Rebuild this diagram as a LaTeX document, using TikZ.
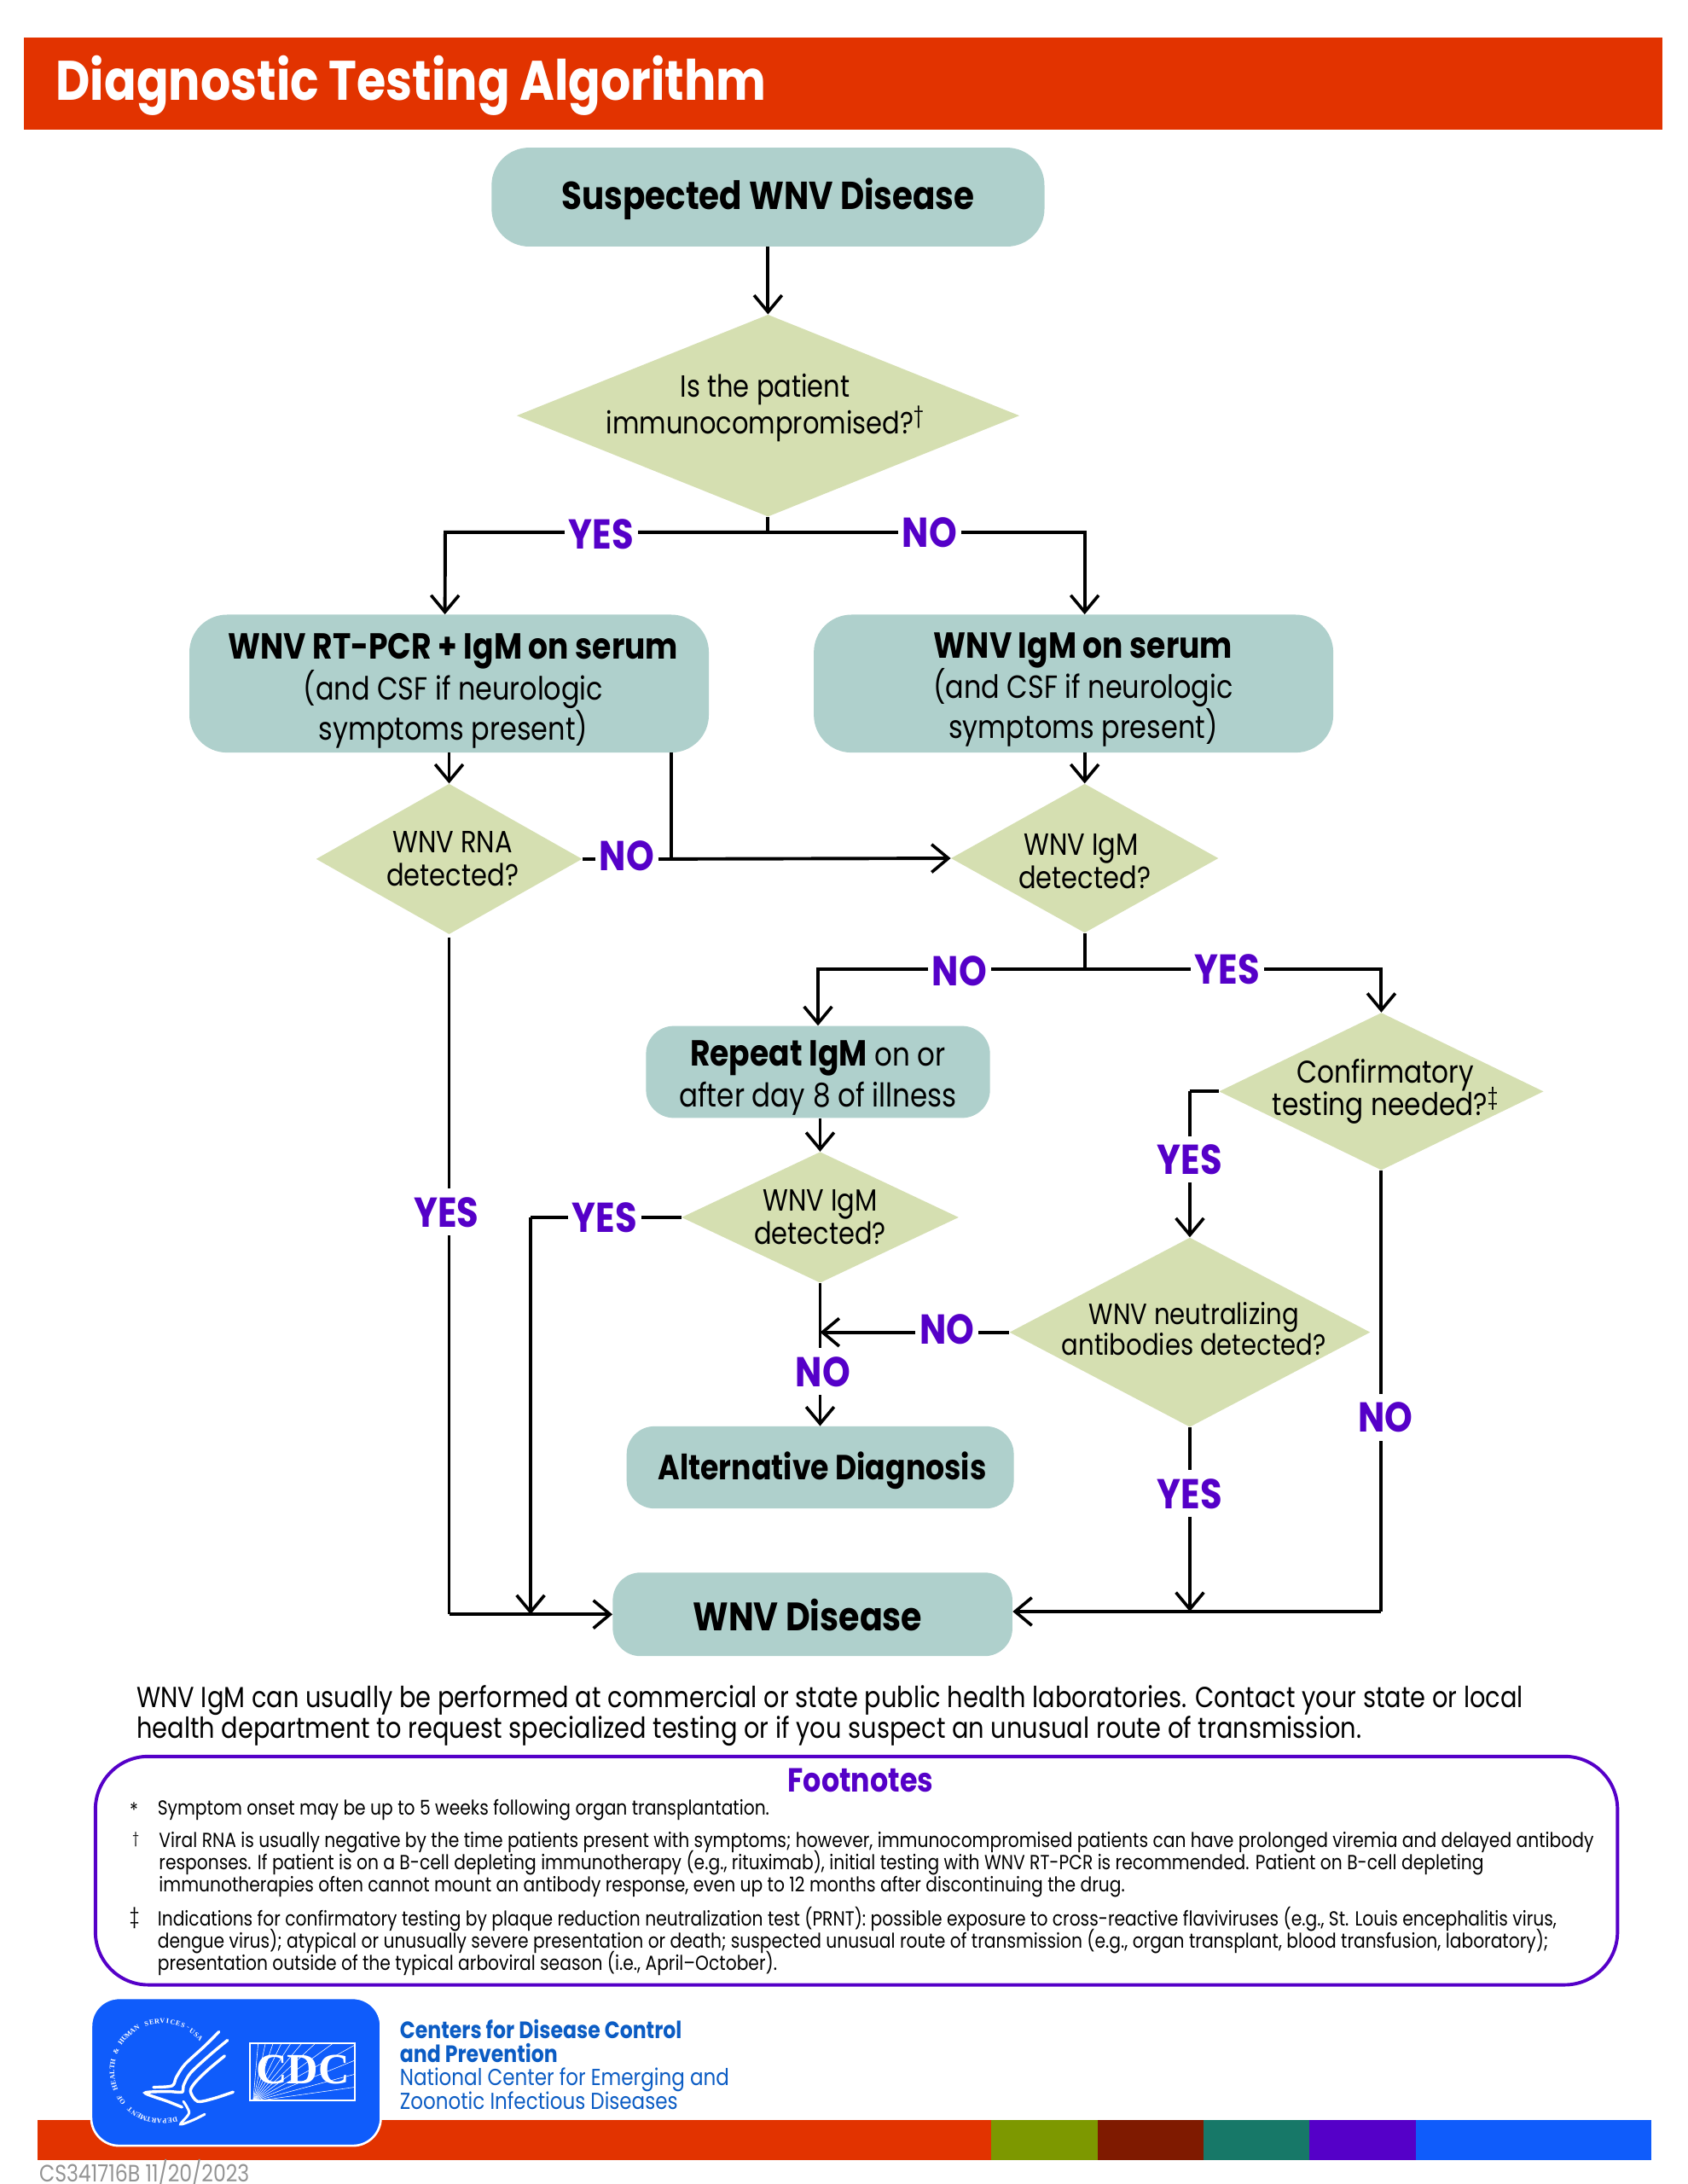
\documentclass[tikz,border=0pt]{standalone}
\usepackage{fontspec}
\setmainfont[FakeStretch=0.85]{Poppins}
\newfontfamily\cdcserif{Liberation Serif}
\usetikzlibrary{shapes.geometric, positioning, arrows.meta, calc}
\definecolor{bannerred}{HTML}{E23300}
\definecolor{boxteal}{HTML}{AFD0CC}
\definecolor{qgreen}{HTML}{D5DFB1}
\definecolor{labelpurple}{HTML}{5500C8}
\definecolor{cdcblue}{HTML}{0F5CFB}
\definecolor{barolive}{HTML}{7D9800}
\definecolor{barbrown}{HTML}{7F1A00}
\definecolor{barteal}{HTML}{177868}
\definecolor{linkblue}{HTML}{0B5CC4}
\newcommand{\boxhead}[1]{{\fontsize{26}{29}\selectfont\bfseries #1}}
\newcommand{\pushdown}[1]{\rule{0pt}{#1}}
\newcommand{\pushup}[1]{\rule[-#1]{0pt}{#1}}
\newcommand{\tightlines}{\lineskiplimit=-20pt\relax}
\tikzstyle{testbox} = [
    rectangle, rounded corners=27pt, fill=boxteal, inner sep=0pt,
    text centered, align=center, font=\fontsize{23}{29}\selectfont
]
\tikzstyle{question} = [
    diamond, fill=qgreen, inner sep=-40pt, % text must not size the shape
    text centered, align=center, font=\fontsize{22}{24}\selectfont\tightlines
]
\tikzstyle{answer} = [
    fill=white, inner xsep=3pt, inner ysep=6pt, text=labelpurple,
    font=\fontsize{30}{30}\selectfont\bfseries
]
\tikzstyle{flow} = [line width=2.4pt]
\tikzstyle{flowto} = [line width=2.4pt, -{Straight Barb[length=12pt,width=20pt,line width=2.2pt]}]
\tikzstyle{barpiece} = [rectangle, minimum height=29pt, inner sep=0pt, outer sep=0pt]
\tikzstyle{notetext} = [anchor=north west, inner sep=0pt, align=left, font=\fontsize{14.6}{16}\selectfont\tightlines]
\begin{document}
\begin{tikzpicture}[x=1pt, y=-1pt]
    \useasboundingbox (0,0) rectangle (1211.6,1568);
    \fill[white] (0,0) rectangle (1211.6,1568);

    % Banner
    \node[rectangle, fill=bannerred, minimum width=1177pt, minimum height=66pt, inner sep=0pt] (banner) at (605.5,60) {};
    \node[anchor=base west, text=white, inner sep=0pt, font=\fontsize{40}{40}\selectfont\bfseries] (title) at (40,72) {Diagnostic Testing Algorithm};

    % Boxes and questions
    \node[testbox, minimum width=397pt, minimum height=71pt, font=\fontsize{28}{28}\selectfont\bfseries] (suspect) at (551.5,141.5) {\pushdown{25pt}Suspected WNV Disease};
    \node[question, minimum width=361pt, minimum height=145pt, font=\fontsize{22}{26}\selectfont\tightlines] (immuno) [below=48.5pt of suspect] {Is the patient\hspace*{4pt}\\immunocompromised?\textsuperscript{†}\hspace*{4pt}\pushup{17pt}};

    \node[testbox, minimum width=373pt, minimum height=99pt] (pcr) [below=70pt of immuno, xshift=-229pt] {\hspace*{6pt}\pushdown{29pt}\boxhead{WNV RT-PCR + IgM on serum}\\\hspace*{6pt}(and CSF if neurologic\\\hspace*{6pt}symptoms present)};
    \node[testbox, minimum width=373pt, minimum height=99pt] (igm) [right=75pt of pcr] {\hspace*{14pt}\pushdown{27pt}\boxhead{WNV IgM on serum}\\\hspace*{14pt}(and CSF if neurologic\\\hspace*{14pt}symptoms present)};

    \node[question, minimum width=191pt, minimum height=108pt] (rna) [below=22pt of pcr] {\hspace*{5pt}WNV RNA\\\hspace*{5pt}detected?};
    \node[question, minimum width=192pt, minimum height=107pt] (igmq) [below=22pt of igm, xshift=8pt] {\pushdown{20pt}WNV IgM\hspace*{5pt}\\detected?};

    \node[testbox, rounded corners=20pt, minimum width=247pt, minimum height=66pt, font=\fontsize{23.5}{29}\selectfont] (repeat) [below=66.5pt of igmq, xshift=-191.5pt] {\pushdown{27pt}\boxhead{Repeat IgM} on or\\after day 8 of illness};
    \node[question, minimum width=199pt, minimum height=94pt] (igmtwo) [below=24pt of repeat, xshift=1.5pt] {WNV IgM\\detected?};
    \node[question, minimum width=233pt, minimum height=113pt, font=\fontsize{22.5}{23}\selectfont\tightlines] (confirm) [below=57pt of igmq, xshift=213pt] {\hspace*{6pt}Confirmatory\\\hspace*{6pt}testing needed?\textsuperscript{‡}};
    \node[question, minimum width=259pt, minimum height=136pt, font=\fontsize{21}{22}\selectfont\tightlines] (neutral) [below=48pt of confirm, xshift=-137.5pt] {\hspace*{6pt}WNV neutralizing\\\hspace*{6pt}antibodies detected?\pushup{5pt}};

    \node[testbox, rounded corners=20pt, minimum width=278pt, minimum height=59pt, font=\fontsize{25}{25}\selectfont\bfseries] (altdx) at (589,1053.5) {\pushdown{24pt}\hspace*{3pt}Alternative Diagnosis};
    \node[testbox, rounded corners=20pt, minimum width=287pt, minimum height=60pt, font=\fontsize{28.5}{28.5}\selectfont\bfseries] (wnv) at (583.5,1159) {\pushdown{24pt}WNV Disease\hspace*{7pt}};

    % Connectors
    \coordinate (columnyes) at (319.7,0);
    \coordinate (columnrna) at (482,0);
    \coordinate (columndrop) at (381,0);
    \coordinate (lowline) at (0,1157);

    \draw[flowto] (suspect) -- (immuno);
    \coordinate (splitone) at ([yshift=-11pt]immuno.south);
    \draw[flow] (immuno.south) -- (splitone);
    \draw[flowto] (splitone) -- node[answer, pos=.517, yshift=-1.5pt] (yesa) {YES} (splitone -| columnyes) -- ([xshift=-3pt]pcr.north);
    \draw[flowto] (splitone) -- node[answer, pos=.51] (noa) {NO} (splitone -| igmq) -- ([xshift=8pt]igm.north);
    \draw[flowto] (pcr) -- (rna);
    \draw[flowto] ([xshift=8pt]igm.south) -- (igmq);

    \coordinate (joinrna) at (rna -| columnrna);
    \draw[flow] (rna.east) -- node[answer, pos=.5, yshift=2pt] (nob) {NO} (joinrna);
    \draw[flow] (pcr.south -| joinrna) -- (joinrna);
    \draw[flowto] (joinrna) -- (igmq.west);
    \coordinate (rnafoot) at ([yshift=-2pt]rna.south);
    \coordinate (wnvfoot) at (wnv.west -| rnafoot);
    \draw[flow] (rnafoot) -- node[answer, pos=.406, xshift=-2pt] (yesb) {YES} (wnvfoot);
    \draw[flowto] (wnvfoot) -- (wnv.west);

    \coordinate (splittwo) at ([yshift=-26pt]igmq.south);
    \draw[flow] (igmq.south) -- (splittwo);
    \draw[flowto] (splittwo) -- node[answer, pos=.47, yshift=-1.5pt] (noc) {NO} (splittwo -| repeat) -- (repeat.north);
    \draw[flowto] (splittwo) -- node[answer, pos=.48] (yesc) {YES} (splittwo -| confirm) -- (confirm.north);
    \draw[flowto] (repeat.south -| igmtwo) -- (igmtwo);

    \coordinate (drop) at (igmtwo.west -| columndrop);
    \draw[flow] (igmtwo.west) -- node[answer, pos=.51] (yesd) {YES} (drop);
    \draw[flowto] (drop) -- (drop |- wnv.west);
    \draw[flowto] (igmtwo.south) -- node[answer, pos=.62, xshift=2pt] (nod) {NO} (igmtwo.south |- altdx.north);
    \draw[flowto] (neutral.west) -- node[answer, pos=.33, yshift=2pt] (noe) {NO} (neutral.west -| igmtwo.south);

    \coordinate (bendconfirm) at (confirm.west -| neutral);
    \draw[flow] (confirm.west) -- (bendconfirm);
    \draw[flowto] (bendconfirm) -- node[answer, pos=.466] (yese) {YES} (neutral.north);
    \coordinate (bendnote) at (confirm.south |- lowline);
    \draw[flow] (confirm.south) -- node[answer, pos=.56, xshift=3pt] (nof) {NO} (bendnote);
    \draw[flowto] (bendnote) -- (wnv.east |- bendnote);
    \draw[flowto] (neutral.south) -- node[answer, pos=.36] (yesf) {YES} (neutral.south |- bendnote);

    % Text under the chart
    \node[anchor=north west, inner sep=0pt, align=left, font=\fontsize{20.8}{22}\selectfont\tightlines] (remark) at (98,1210) {WNV IgM can usually be performed at commercial or state public health laboratories. Contact your state or local\\health department to request specialized testing or if you suspect an unusual route of transmission.};

    % Footnotes
    \node[rectangle, rounded corners=38pt, draw=labelpurple, line width=2.4pt, minimum width=1093pt, minimum height=164pt] (notes) at (615,1343) {};
    \node[text=labelpurple, inner sep=0pt, font=\fontsize{24}{24}\selectfont\bfseries] (notehead) at (618,1278) {Footnotes};
    \node[notetext] (starmark) at (93,1294) {*};
    \node[notetext] (starnote) at (113,1292) {Symptom onset may be up to 5 weeks following organ transplantation.};
    \node[notetext, font=\fontsize{10}{10}\selectfont] (daggermark) at (95,1315) {†};
    \node[notetext] (daggernote) at (114,1315) {Viral RNA is usually negative by the time patients present with symptoms; however, immunocompromised patients can have prolonged viremia and delayed antibody\\responses. If patient is on a B-cell depleting immunotherapy (e.g., rituximab), initial testing with WNV RT-PCR is recommended. Patient on B-cell depleting\\immunotherapies often cannot mount an antibody response, even up to 12 months after discontinuing the drug.};
    \node[notetext] (ddaggermark) at (93,1369) {‡};
    \node[notetext] (ddaggernote) at (113,1369) {Indications for confirmatory testing by plaque reduction neutralization test (PRNT): possible exposure to cross-reactive flaviviruses (e.g., St. Louis encephalitis virus,\\dengue virus); atypical or unusually severe presentation or death; suspected unusual route of transmission (e.g., organ transplant, blood transfusion, laboratory);\\presentation outside of the typical arboviral season (i.e., April--October).};

    % Colour bar
    \node[barpiece, fill=bannerred, minimum width=685pt] (barred) at (369.5,1536.5) {};
    \node[barpiece, fill=barolive, minimum width=76pt] (barone) [right=0pt of barred] {};
    \node[barpiece, fill=barbrown, minimum width=76pt] (bartwo) [right=0pt of barone] {};
    \node[barpiece, fill=barteal, minimum width=76pt] (barthree) [right=0pt of bartwo] {};
    \node[barpiece, fill=labelpurple, minimum width=77pt] (barfour) [right=0pt of barthree] {};
    \node[barpiece, fill=cdcblue, minimum width=169pt] (barfive) [right=0pt of barfour] {};

    % Logo
    \node[rectangle, rounded corners=20pt, fill=cdcblue, draw=white, line width=1.6pt, minimum width=208pt, minimum height=106pt] (logo) at (169.5,1487.5) {};
    \foreach \ch [count=\i] in {D,E,P,A,R,T,M,E,N,T,{ },O,F,{ },H,E,A,L,T,H,{ },\&,{ },H,U,M,A,N,{ },S,E,R,V,I,C,E,S,-,U,S,A}
        \node[text=white, inner sep=0pt, rotate={-165-(\i-1)*6.1}, font=\fontsize{5}{5}\selectfont\cdcserif\bfseries] (ring\i) at ($(116.4,1487)+({75+(\i-1)*6.1}:36)$) {\ch};
    \begin{scope}[shift={(61.25,1430.1)}, x=0.2042pt, y=-0.2042pt]
        \draw[white, line width=2.1pt, line cap=round] plot[smooth] coordinates {(470,140) (420,190) (350,255) (320,300) (305,330) (240,335)};
        \draw[white, line width=2.1pt, line cap=round] plot[smooth] coordinates {(500,170) (440,220) (370,285) (345,330) (340,352) (290,350) (210,355) (290,385) (340,405)};
        \draw[white, line width=2.1pt, line cap=round] plot[smooth] coordinates {(490,225) (430,275) (385,320) (370,350) (395,385) (450,375) (520,352)};
        \draw[white, line width=1.8pt, line cap=round] plot[smooth] coordinates {(345,385) (365,425) (335,465) (380,450) (420,430)};
        \draw[white, line width=1pt] (578,180) rectangle (948,382);
        \clip (578,180) rectangle (948,382);
        \foreach \ang in {8,15,...,88}
            \draw[white, line width=.35pt] (590,385) -- ++(-\ang:480);
    \end{scope}
    \node[text=white, inner sep=0pt, font=\fontsize{31}{31}\selectfont\cdcserif\bfseries] (cdc) at (217.5,1486) {CDC};

    % Agency name
    \node[anchor=north west, inner sep=0pt, align=left, text=linkblue, font=\fontsize{16.6}{16.8}\selectfont\tightlines] (agency) at (287,1450) {{\fontsize{17}{16.8}\selectfont\bfseries Centers for Disease Control}\\{\fontsize{17}{16.8}\selectfont\bfseries and Prevention}\\National Center for Emerging and\\Zoonotic Infectious Diseases};
    \node[anchor=west, inner sep=0pt, text=gray!85, font=\fontsize{17}{17}\selectfont] (stamp) at (28,1560) {CS341716B 11/20/2023};
\end{tikzpicture}
\end{document}
